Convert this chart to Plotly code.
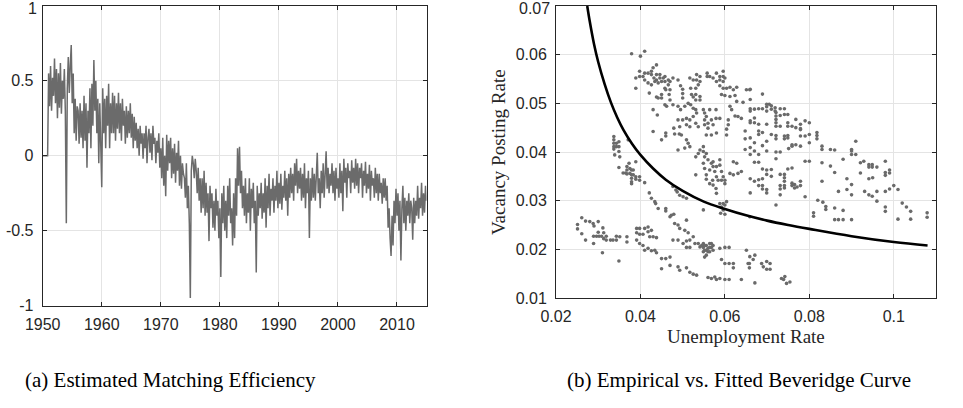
import plotly.graph_objects as go

# ---------------- Panel (a): estimated matching efficiency (6 readings per year) ----------------
eff_start_year = 1950
eff_per_year = 6
eff_values = [
    # 1950
    0.00, 0.00, 0.00, 0.00, 0.00, 0.00,
    # 1951
    0.55, 0.33, 0.60, 0.30, 0.52, 0.40,
    # 1952
    0.65, 0.35, 0.58, 0.25, 0.55, 0.32,
    # 1953
    0.62, 0.28, 0.50, 0.38, 0.58, 0.30,
    # 1954
    -0.45, 0.45, 0.66, 0.42, 0.60, 0.74,
    # 1955
    0.35, 0.55, 0.15, 0.38, 0.10, 0.33,
    # 1956
    0.30, 0.08, 0.35, 0.12, 0.30, 0.05,
    # 1957
    0.40, 0.10, 0.35, -0.08, 0.30, 0.15,
    # 1958
    0.45, 0.05, 0.48, 0.20, 0.64, 0.30,
    # 1959
    0.50, 0.15, 0.38, -0.05, 0.35, 0.10,
    # 1960
    -0.21, 0.45, 0.15, 0.38, 0.05, 0.40,
    # 1961
    0.20, 0.48, 0.05, 0.35, 0.15, 0.42,
    # 1962
    0.15, 0.40, 0.10, 0.35, 0.18, 0.42,
    # 1963
    0.15, 0.35, 0.10, 0.38, 0.20, 0.30,
    # 1964
    0.08, 0.33, 0.12, 0.30, 0.15, 0.35,
    # 1965
    0.12, 0.28, 0.05, 0.26, 0.10, 0.22,
    # 1966
    0.05, 0.18, 0.00, 0.20, 0.08, 0.15,
    # 1967
    -0.02, 0.15, 0.05, 0.20, -0.05, 0.12,
    # 1968
    0.18, 0.02, 0.15, -0.03, 0.20, 0.08,
    # 1969
    0.12, -0.05, 0.10, 0.02, 0.15, -0.08,
    # 1970
    0.05, -0.15, 0.12, -0.20, 0.00, -0.27,
    # 1971
    0.14, -0.10, 0.10, -0.05, 0.12, -0.15,
    # 1972
    0.05, -0.12, 0.08, -0.18, 0.02, -0.10,
    # 1973
    0.10, -0.20, 0.00, -0.22, -0.05, -0.12,
    # 1974
    -0.15, -0.28, -0.05, -0.35, -0.20, -0.45,
    # 1975
    -0.95, -0.10, 0.00, -0.05, -0.15, -0.02,
    # 1976
    -0.10, -0.25, -0.08, -0.30, -0.15, -0.38,
    # 1977
    -0.15, -0.35, -0.10, -0.40, -0.18, -0.38,
    # 1978
    -0.25, -0.57, -0.20, -0.35, -0.25, -0.48,
    # 1979
    -0.30, -0.50, -0.22, -0.40, -0.30, -0.55,
    # 1980
    -0.35, -0.81, -0.25, -0.45, -0.20, -0.50,
    # 1981
    -0.30, -0.55, -0.20, -0.40, -0.15, -0.45,
    # 1982
    -0.35, -0.60, -0.25, -0.55, -0.15, -0.40,
    # 1983
    0.05, -0.20, 0.06, -0.25, -0.10, -0.35,
    # 1984
    -0.20, -0.40, -0.15, -0.45, -0.25, -0.38,
    # 1985
    -0.15, -0.50, -0.22, -0.35, -0.18, -0.45,
    # 1986
    -0.30, -0.78, -0.20, -0.40, -0.25, -0.35,
    # 1987
    -0.18, -0.42, -0.25, -0.38, -0.15, -0.48,
    # 1988
    -0.20, -0.35, -0.12, -0.40, -0.22, -0.30,
    # 1989
    -0.15, -0.38, -0.20, -0.30, -0.10, -0.35,
    # 1990
    -0.18, -0.32, -0.12, -0.36, -0.20, -0.28,
    # 1991
    -0.10, -0.30, -0.15, -0.40, -0.12, -0.28,
    # 1992
    -0.08, -0.25, -0.12, -0.30, -0.05, -0.20,
    # 1993
    -0.02, -0.25, -0.10, -0.22, -0.08, -0.30,
    # 1994
    -0.12, -0.28, -0.05, -0.35, -0.15, -0.25,
    # 1995
    -0.10, -0.55, -0.15, -0.30, -0.08, -0.28,
    # 1996
    -0.12, -0.30, -0.05, 0.02, -0.25, -0.15,
    # 1997
    -0.35, -0.10, -0.25, -0.05, -0.28, -0.12,
    # 1998
    0.03, -0.22, -0.08, -0.25, -0.12, -0.20,
    # 1999
    -0.05, -0.25, -0.10, -0.30, -0.08, -0.22,
    # 2000
    -0.15, -0.28, -0.05, -0.25, -0.10, -0.37,
    # 2001
    -0.02, -0.18, -0.08, -0.28, -0.05, -0.15,
    # 2002
    -0.10, -0.25, -0.03, -0.18, -0.08, -0.22,
    # 2003
    -0.02, -0.20, -0.05, -0.25, -0.08, -0.15,
    # 2004
    -0.05, -0.28, -0.10, -0.20, -0.04, -0.25,
    # 2005
    -0.12, -0.22, -0.06, -0.30, -0.10, -0.20,
    # 2006
    -0.15, -0.28, -0.08, -0.25, -0.12, -0.30,
    # 2007
    -0.12, -0.25, -0.18, -0.32, -0.15, -0.28,
    # 2008
    -0.15, -0.30, -0.20, -0.48, -0.35, -0.55,
    # 2009
    -0.67, -0.40, -0.60, -0.30, -0.45, -0.22,
    # 2010
    -0.40, -0.25, -0.50, -0.30, -0.70, -0.35,
    # 2011
    -0.20, -0.45, -0.28, -0.50, -0.30, -0.40,
    # 2012
    -0.25, -0.45, -0.30, -0.35, -0.56, -0.28,
    # 2013
    -0.45, -0.30, -0.40, -0.20, -0.42, -0.28,
    # 2014
    -0.35, -0.18, -0.40, -0.25, -0.38, -0.20,
    # 2015
    -0.30,
]
eff_years = [eff_start_year + i / eff_per_year for i in range(len(eff_values))]

eff_xticks = [1950, 1960, 1970, 1980, 1990, 2000, 2010]
eff_yticks = [-1, -0.5, 0, 0.5, 1]
eff_yticktext = ["-1", "-0.5", "0", "0.5", "1"]

# ---------------- Panel (b): empirical (u, v) points ----------------
low_band = [
    (0.0251, 0.0251), (0.0251, 0.0242), (0.0261, 0.0265), (0.0261, 0.0232), (0.0270, 0.0258), (0.0270, 0.0219),
    (0.0280, 0.0257), (0.0288, 0.0253), (0.0300, 0.0257), (0.0289, 0.0227), (0.0296, 0.0227), (0.0302, 0.0227),
    (0.0308, 0.0227), (0.0313, 0.0234), (0.0313, 0.0222), (0.0319, 0.0227), (0.0319, 0.0219), (0.0329, 0.0219),
    (0.0335, 0.0219), (0.0343, 0.0219), (0.0343, 0.0227), (0.0351, 0.0226), (0.0310, 0.0193), (0.0349, 0.0176),
    (0.0289, 0.0212), (0.0368, 0.0226), (0.0368, 0.0215), (0.0290, 0.0248), (0.0311, 0.0244), (0.0300, 0.0235),
    (0.0391, 0.0243), (0.0391, 0.0234), (0.0398, 0.0243), (0.0398, 0.0231), (0.0406, 0.0231), (0.0410, 0.0243),
    (0.0418, 0.0246), (0.0418, 0.0236), (0.0422, 0.0226), (0.0426, 0.0239), (0.0430, 0.0226), (0.0438, 0.0224),
    (0.0391, 0.0219), (0.0398, 0.0212), (0.0406, 0.0208), (0.0410, 0.0198), (0.0418, 0.0202), (0.0426, 0.0197),
    (0.0434, 0.0198), (0.0438, 0.0193), (0.0450, 0.0181), (0.0460, 0.0181), (0.0470, 0.0184), (0.0450, 0.0160),
    (0.0470, 0.0167), (0.0489, 0.0164), (0.0493, 0.0157), (0.0509, 0.0162), (0.0517, 0.0153), (0.0525, 0.0149),
    (0.0533, 0.0147),
    (0.0481, 0.0253), (0.0489, 0.0250), (0.0493, 0.0243), (0.0505, 0.0239), (0.0509, 0.0260), (0.0513, 0.0234),
    (0.0477, 0.0219), (0.0489, 0.0219), (0.0501, 0.0212), (0.0509, 0.0217), (0.0509, 0.0204), (0.0517, 0.0204),
    (0.0517, 0.0219), (0.0525, 0.0226), (0.0529, 0.0212), (0.0537, 0.0212), (0.0541, 0.0205), (0.0549, 0.0212),
    (0.0549, 0.0204), (0.0552, 0.0198), (0.0556, 0.0208), (0.0560, 0.0202), (0.0564, 0.0212), (0.0564, 0.0195),
    (0.0568, 0.0204), (0.0572, 0.0208), (0.0572, 0.0198), (0.0552, 0.0184), (0.0556, 0.0188), (0.0588, 0.0202),
    (0.0600, 0.0204), (0.0610, 0.0204), (0.0592, 0.0179), (0.0600, 0.0171), (0.0610, 0.0171), (0.0620, 0.0171),
    (0.0620, 0.0162), (0.0560, 0.0142), (0.0568, 0.0140), (0.0576, 0.0143), (0.0580, 0.0138), (0.0588, 0.0140),
    (0.0600, 0.0138), (0.0610, 0.0138), (0.0639, 0.0138), (0.0651, 0.0198), (0.0658, 0.0171), (0.0658, 0.0162),
    (0.0556, 0.0198), (0.0560, 0.0195), (0.0564, 0.0204), (0.0552, 0.0208), (0.0568, 0.0212), (0.0549, 0.0195),
    (0.0545, 0.0208),
    (0.0655, 0.0171), (0.0659, 0.0185), (0.0671, 0.0188), (0.0667, 0.0179), (0.0671, 0.0131), (0.0687, 0.0171),
    (0.0691, 0.0164), (0.0699, 0.0175), (0.0707, 0.0171), (0.0699, 0.0159), (0.0707, 0.0159), (0.0734, 0.0140),
    (0.0742, 0.0144), (0.0746, 0.0130), (0.0754, 0.0133), (0.0739, 0.0138),
]

diagonal_band = [
    (0.0410, 0.0337), (0.0421, 0.0316), (0.0426, 0.0305), (0.0434, 0.0298), (0.0436, 0.0294), (0.0442, 0.0284),
    (0.0460, 0.0284), (0.0460, 0.0279), (0.0470, 0.0267), (0.0473, 0.0270), (0.0479, 0.0272),
    (0.0477, 0.0329), (0.0484, 0.0322), (0.0487, 0.0318), (0.0493, 0.0311), (0.0501, 0.0308), (0.0509, 0.0305),
    (0.0549, 0.0281), (0.0588, 0.0294), (0.0592, 0.0287), (0.0596, 0.0294), (0.0600, 0.0291), (0.0604, 0.0298),
    (0.0596, 0.0281), (0.0590, 0.0274), (0.0600, 0.0272), (0.0659, 0.0267),
]

left_cluster = [
    (0.0337, 0.0432), (0.0337, 0.0425), (0.0337, 0.0418), (0.0337, 0.0411), (0.0337, 0.0406), (0.0343, 0.0418),
    (0.0343, 0.0411), (0.0349, 0.0421), (0.0349, 0.0411), (0.0349, 0.0401), (0.0339, 0.0394), (0.0351, 0.0390),
    (0.0349, 0.0368), (0.0359, 0.0357), (0.0365, 0.0357), (0.0368, 0.0370), (0.0368, 0.0363), (0.0368, 0.0355),
    (0.0373, 0.0377), (0.0375, 0.0366), (0.0375, 0.0356), (0.0379, 0.0363), (0.0379, 0.0353), (0.0379, 0.0346),
    (0.0379, 0.0339), (0.0379, 0.0335), (0.0383, 0.0363), (0.0383, 0.0353), (0.0389, 0.0380), (0.0389, 0.0349),
    (0.0389, 0.0344), (0.0398, 0.0349), (0.0398, 0.0342), (0.0371, 0.0425),
]

upper_cloud = [
    (0.0379, 0.0602), (0.0400, 0.0597), (0.0410, 0.0607),
    (0.0389, 0.0552), (0.0389, 0.0531), (0.0398, 0.0566), (0.0398, 0.0555), (0.0406, 0.0555), (0.0410, 0.0562),
    (0.0410, 0.0548), (0.0418, 0.0562), (0.0418, 0.0542), (0.0426, 0.0566), (0.0426, 0.0559), (0.0430, 0.0573),
    (0.0432, 0.0552), (0.0434, 0.0545), (0.0438, 0.0579), (0.0438, 0.0559), (0.0438, 0.0548), (0.0442, 0.0542),
    (0.0446, 0.0559), (0.0446, 0.0552), (0.0450, 0.0545), (0.0454, 0.0552), (0.0458, 0.0555), (0.0458, 0.0545),
    (0.0458, 0.0531), (0.0460, 0.0528), (0.0466, 0.0548), (0.0466, 0.0538), (0.0470, 0.0545), (0.0470, 0.0528),
    (0.0477, 0.0552), (0.0489, 0.0548), (0.0421, 0.0521), (0.0426, 0.0538), (0.0442, 0.0511), (0.0450, 0.0511),
    (0.0450, 0.0518), (0.0468, 0.0518), (0.0470, 0.0507), (0.0477, 0.0497), (0.0462, 0.0494), (0.0458, 0.0497),
    (0.0430, 0.0487), (0.0440, 0.0476), (0.0450, 0.0425), (0.0438, 0.0513),
    (0.0517, 0.0552), (0.0525, 0.0548), (0.0533, 0.0559), (0.0533, 0.0548), (0.0541, 0.0555), (0.0541, 0.0545),
    (0.0519, 0.0531), (0.0531, 0.0531), (0.0537, 0.0538), (0.0521, 0.0518), (0.0525, 0.0513), (0.0531, 0.0518),
    (0.0531, 0.0507), (0.0541, 0.0514), (0.0541, 0.0507), (0.0495, 0.0536), (0.0500, 0.0529), (0.0500, 0.0520),
    (0.0500, 0.0511), (0.0489, 0.0494), (0.0495, 0.0487), (0.0505, 0.0494), (0.0513, 0.0500), (0.0519, 0.0497),
    (0.0525, 0.0490), (0.0531, 0.0487), (0.0533, 0.0480), (0.0525, 0.0473), (0.0517, 0.0466), (0.0509, 0.0469),
    (0.0509, 0.0456), (0.0500, 0.0466), (0.0489, 0.0466), (0.0493, 0.0452), (0.0517, 0.0452), (0.0531, 0.0459),
    (0.0537, 0.0452), (0.0549, 0.0487), (0.0552, 0.0480), (0.0552, 0.0466), (0.0552, 0.0456), (0.0556, 0.0473),
    (0.0560, 0.0459), (0.0560, 0.0449), (0.0564, 0.0487), (0.0568, 0.0466), (0.0572, 0.0456), (0.0579, 0.0487),
    (0.0579, 0.0469), (0.0588, 0.0469), (0.0556, 0.0435), (0.0568, 0.0435), (0.0580, 0.0439), (0.0509, 0.0425),
    (0.0513, 0.0418), (0.0517, 0.0411), (0.0505, 0.0408), (0.0489, 0.0404), (0.0479, 0.0449), (0.0481, 0.0437),
    (0.0492, 0.0437), (0.0497, 0.0435), (0.0460, 0.0439), (0.0460, 0.0433), (0.0430, 0.0442),
    (0.0558, 0.0562), (0.0558, 0.0555), (0.0564, 0.0555), (0.0572, 0.0552), (0.0580, 0.0562), (0.0580, 0.0545),
    (0.0588, 0.0555), (0.0588, 0.0548), (0.0596, 0.0566), (0.0596, 0.0555), (0.0596, 0.0545), (0.0600, 0.0552),
    (0.0588, 0.0536), (0.0596, 0.0531), (0.0604, 0.0531), (0.0612, 0.0533), (0.0620, 0.0528), (0.0628, 0.0533),
    (0.0592, 0.0518), (0.0600, 0.0516), (0.0612, 0.0514), (0.0624, 0.0516), (0.0628, 0.0504), (0.0612, 0.0494),
    (0.0616, 0.0487), (0.0624, 0.0474), (0.0631, 0.0473), (0.0639, 0.0469), (0.0608, 0.0466), (0.0608, 0.0456),
    (0.0604, 0.0447), (0.0643, 0.0502), (0.0651, 0.0528), (0.0659, 0.0528),
    (0.0531, 0.0390), (0.0537, 0.0397), (0.0541, 0.0404), (0.0549, 0.0411), (0.0549, 0.0401), (0.0552, 0.0390),
    (0.0556, 0.0397), (0.0560, 0.0384), (0.0549, 0.0377), (0.0552, 0.0366), (0.0556, 0.0353), (0.0564, 0.0363),
    (0.0568, 0.0377), (0.0572, 0.0380), (0.0572, 0.0370), (0.0576, 0.0360), (0.0580, 0.0370), (0.0580, 0.0349),
    (0.0588, 0.0384), (0.0588, 0.0373), (0.0592, 0.0360), (0.0592, 0.0342), (0.0596, 0.0349), (0.0600, 0.0342),
    (0.0600, 0.0335), (0.0571, 0.0342), (0.0572, 0.0332), (0.0579, 0.0325), (0.0580, 0.0315), (0.0564, 0.0335),
    (0.0556, 0.0344), (0.0531, 0.0353), (0.0620, 0.0380), (0.0628, 0.0377), (0.0612, 0.0356), (0.0620, 0.0353),
    (0.0631, 0.0356), (0.0639, 0.0360), (0.0584, 0.0342), (0.0604, 0.0435),
]

right_cloud = [
    (0.0660, 0.0529), (0.0660, 0.0508), (0.0689, 0.0519), (0.0660, 0.0489), (0.0660, 0.0484), (0.0670, 0.0488),
    (0.0680, 0.0489), (0.0689, 0.0489), (0.0699, 0.0498), (0.0699, 0.0493), (0.0699, 0.0484), (0.0705, 0.0498),
    (0.0710, 0.0495), (0.0710, 0.0488), (0.0719, 0.0491), (0.0719, 0.0484), (0.0721, 0.0481), (0.0721, 0.0474),
    (0.0721, 0.0467), (0.0721, 0.0460), (0.0721, 0.0453), (0.0731, 0.0489), (0.0731, 0.0475), (0.0741, 0.0489),
    (0.0741, 0.0477), (0.0749, 0.0477), (0.0749, 0.0460), (0.0749, 0.0453), (0.0759, 0.0453), (0.0768, 0.0467),
    (0.0768, 0.0450), (0.0779, 0.0457), (0.0779, 0.0446), (0.0790, 0.0464), (0.0800, 0.0460), (0.0660, 0.0464),
    (0.0660, 0.0460), (0.0670, 0.0470), (0.0670, 0.0460), (0.0680, 0.0457), (0.0699, 0.0457), (0.0648, 0.0443),
    (0.0660, 0.0429), (0.0648, 0.0427), (0.0670, 0.0419), (0.0680, 0.0443), (0.0680, 0.0436), (0.0689, 0.0440),
    (0.0699, 0.0422), (0.0710, 0.0436), (0.0721, 0.0434), (0.0721, 0.0427), (0.0731, 0.0453), (0.0741, 0.0433),
    (0.0741, 0.0427), (0.0749, 0.0434), (0.0749, 0.0429), (0.0759, 0.0415), (0.0768, 0.0415), (0.0779, 0.0448),
    (0.0779, 0.0433), (0.0790, 0.0433), (0.0800, 0.0436), (0.0800, 0.0419), (0.0818, 0.0440), (0.0818, 0.0434),
    (0.0818, 0.0427), (0.0648, 0.0405), (0.0660, 0.0409), (0.0660, 0.0395), (0.0670, 0.0402), (0.0680, 0.0395),
    (0.0689, 0.0413), (0.0699, 0.0402), (0.0721, 0.0400), (0.0731, 0.0400), (0.0721, 0.0386), (0.0751, 0.0407),
    (0.0759, 0.0412), (0.0779, 0.0412), (0.0790, 0.0381), (0.0670, 0.0379), (0.0680, 0.0379), (0.0689, 0.0365),
    (0.0699, 0.0363), (0.0699, 0.0354), (0.0710, 0.0364), (0.0710, 0.0350), (0.0731, 0.0354), (0.0741, 0.0354),
    (0.0741, 0.0347), (0.0741, 0.0340), (0.0749, 0.0365), (0.0759, 0.0367), (0.0660, 0.0345), (0.0670, 0.0340),
    (0.0680, 0.0343), (0.0689, 0.0345), (0.0680, 0.0331), (0.0689, 0.0331), (0.0689, 0.0324), (0.0699, 0.0323),
    (0.0699, 0.0316), (0.0731, 0.0331), (0.0731, 0.0324), (0.0741, 0.0331), (0.0741, 0.0326), (0.0759, 0.0336),
    (0.0759, 0.0331), (0.0765, 0.0333), (0.0765, 0.0326), (0.0771, 0.0328), (0.0779, 0.0340), (0.0779, 0.0331),
    (0.0660, 0.0316), (0.0731, 0.0312), (0.0721, 0.0291), (0.0790, 0.0308), (0.0800, 0.0381), (0.0830, 0.0412),
    (0.0830, 0.0405), (0.0830, 0.0378), (0.0830, 0.0340), (0.0820, 0.0301), (0.0832, 0.0297), (0.0839, 0.0288),
    (0.0839, 0.0282), (0.0810, 0.0275), (0.0810, 0.0268), (0.0860, 0.0285), (0.0860, 0.0261), (0.0850, 0.0405),
    (0.0850, 0.0371), (0.0860, 0.0404), (0.0860, 0.0358), (0.0869, 0.0319), (0.0880, 0.0385), (0.0880, 0.0280),
    (0.0880, 0.0261), (0.0889, 0.0345), (0.0889, 0.0323), (0.0900, 0.0405), (0.0900, 0.0402), (0.0900, 0.0395),
    (0.0900, 0.0333), (0.0900, 0.0312), (0.0910, 0.0422), (0.0910, 0.0395), (0.0921, 0.0378), (0.0921, 0.0357),
    (0.0929, 0.0381), (0.0931, 0.0319), (0.0941, 0.0374), (0.0941, 0.0369), (0.0941, 0.0312), (0.0949, 0.0374),
    (0.0949, 0.0369), (0.0949, 0.0309), (0.0941, 0.0345), (0.0950, 0.0347), (0.0960, 0.0369), (0.0960, 0.0319),
    (0.0960, 0.0299), (0.0980, 0.0381), (0.0980, 0.0358), (0.0980, 0.0352), (0.0980, 0.0319), (0.0980, 0.0287),
    (0.0980, 0.0278), (0.0990, 0.0363), (0.0990, 0.0357), (0.0990, 0.0324), (0.1000, 0.0331), (0.1010, 0.0323),
    (0.1010, 0.0262), (0.1020, 0.0295), (0.1030, 0.0287), (0.1040, 0.0278), (0.1040, 0.0262), (0.1079, 0.0275),
    (0.1079, 0.0266), (0.0900, 0.0261), (0.0869, 0.0261),
]

# fitted Beveridge curve
fit_u = [0.0274, 0.0280, 0.0290, 0.0300, 0.0315, 0.0330, 0.0345, 0.0360, 0.0380, 0.0400, 0.0430,
         0.0460, 0.0500, 0.0550, 0.0600, 0.0650, 0.0700, 0.0750, 0.0800, 0.0900, 0.1000, 0.1080]
fit_v = [0.0700, 0.0668, 0.0622, 0.0585, 0.0540, 0.0502, 0.0471, 0.0445, 0.0417, 0.0394, 0.0366,
         0.0343, 0.0320, 0.0298, 0.0283, 0.0270, 0.0259, 0.0250, 0.0242, 0.0227, 0.0215, 0.0208]

bev_xticks = [0.02, 0.04, 0.06, 0.08, 0.1]
bev_xticktext = ["0.02", "0.04", "0.06", "0.08", "0.1"]
bev_yticks = [0.01, 0.02, 0.03, 0.04, 0.05, 0.06, 0.07]
bev_yticktext = ["0.01", "0.02", "0.03", "0.04", "0.05", "0.06", "0.07"]

scatter_pts = low_band + diagonal_band + left_cluster + upper_cloud + right_cloud
scatter_u = [p[0] for p in scatter_pts]
scatter_v = [p[1] for p in scatter_pts]

# ---------------- figure ----------------
W, H = 963, 408
AX = "#262626"
GRID = "#e4e4e4"
TICKFONT = dict(family="Liberation Sans, Arial, sans-serif", size=16, color=AX)
SERIF = "Liberation Serif, Times New Roman, serif"

fig = go.Figure()
fig.add_trace(go.Scatter(x=eff_years, y=eff_values, mode="lines",
                         line=dict(color="#6b6b6b", width=1.5),
                         xaxis="x", yaxis="y", showlegend=False, hoverinfo="skip"))
fig.add_trace(go.Scatter(x=scatter_u, y=scatter_v, mode="markers",
                         marker=dict(color="#6a6a6a", size=3.6, line=dict(width=0)),
                         xaxis="x2", yaxis="y2", showlegend=False, hoverinfo="skip"))
fig.add_trace(go.Scatter(x=fit_u, y=fit_v, mode="lines",
                         line=dict(color="black", width=2.6, shape="spline", smoothing=1.0),
                         xaxis="x2", yaxis="y2", showlegend=False, hoverinfo="skip"))

def ax_style(**kw):
    d = dict(showline=True, linecolor=AX, linewidth=1, mirror="ticks",
             ticks="inside", ticklen=4, tickwidth=1, tickcolor=AX,
             showgrid=True, gridcolor=GRID, gridwidth=1, zeroline=False,
             tickfont=TICKFONT, fixedrange=True, automargin=False,
             ticklabeloverflow="allow")
    d.update(kw)
    return d

def px_x(p):
    return p / W

def px_y(p):
    return 1 - p / H

# the topmost y tick labels sit at the very top edge: draw them as annotations pinned inside the page
eff_ytext_axis = eff_yticktext[:-1] + [""]
bev_ytext_axis = bev_yticktext[:-1] + [""]

fig.update_layout(
    width=W, height=H,
    margin=dict(l=0, r=0, t=0, b=0, pad=0),
    paper_bgcolor="white", plot_bgcolor="white",
    showlegend=False,
    xaxis=ax_style(domain=[px_x(42.7), px_x(426.5)], range=[1950, 2015],
                   tickvals=eff_xticks, ticklabelstandoff=4, anchor="y"),
    yaxis=ax_style(domain=[px_y(305.5), px_y(6)], range=[-1, 1],
                   tickvals=eff_yticks, ticktext=eff_ytext_axis, ticklabelstandoff=5, anchor="x"),
    xaxis2=ax_style(domain=[px_x(556), px_x(936)], range=[0.02, 0.11],
                    tickvals=bev_xticks, ticktext=bev_xticktext, ticklabelstandoff=4, anchor="y2"),
    yaxis2=ax_style(domain=[px_y(298), px_y(6)], range=[0.01, 0.07],
                    tickvals=bev_yticks, ticktext=bev_ytext_axis, ticklabelstandoff=5, anchor="x2"),
)

annos = [
    dict(text="Unemployment Rate", x=px_x(746), y=px_y(336), font=dict(family=SERIF, size=19, color=AX)),
    dict(text="Vacancy Posting Rate", x=px_x(498), y=px_y(152), textangle=-90,
         font=dict(family=SERIF, size=19, color=AX)),
    dict(text="(a) Estimated Matching Efficiency", x=px_x(170), y=px_y(380),
         font=dict(family=SERIF, size=21, color="black")),
    dict(text="(b) Empirical vs. Fitted Beveridge Curve", x=px_x(739), y=px_y(380),
         font=dict(family=SERIF, size=21, color="black")),
]
for a in annos:
    fig.add_annotation(xref="paper", yref="paper", showarrow=False,
                       xanchor="center", yanchor="middle", **a)

# top tick labels, right-aligned just left of each axis, kept inside the page
fig.add_annotation(xref="paper", yref="paper", x=px_x(37.5), y=1.0, text=eff_yticktext[-1],
                   showarrow=False, xanchor="right", yanchor="top", font=TICKFONT,
                   borderpad=0, yshift=1)
fig.add_annotation(xref="paper", yref="paper", x=px_x(550.5), y=1.0, text=bev_yticktext[-1],
                   showarrow=False, xanchor="right", yanchor="top", font=TICKFONT,
                   borderpad=0, yshift=1)

# the page's default body margin would shift the figure; remove it so the figure fills the window
fig.write_html("out.html",
               config={"displayModeBar": False, "staticPlot": True},
               post_script="document.body.style.margin='0px';document.body.style.overflow='hidden';")
